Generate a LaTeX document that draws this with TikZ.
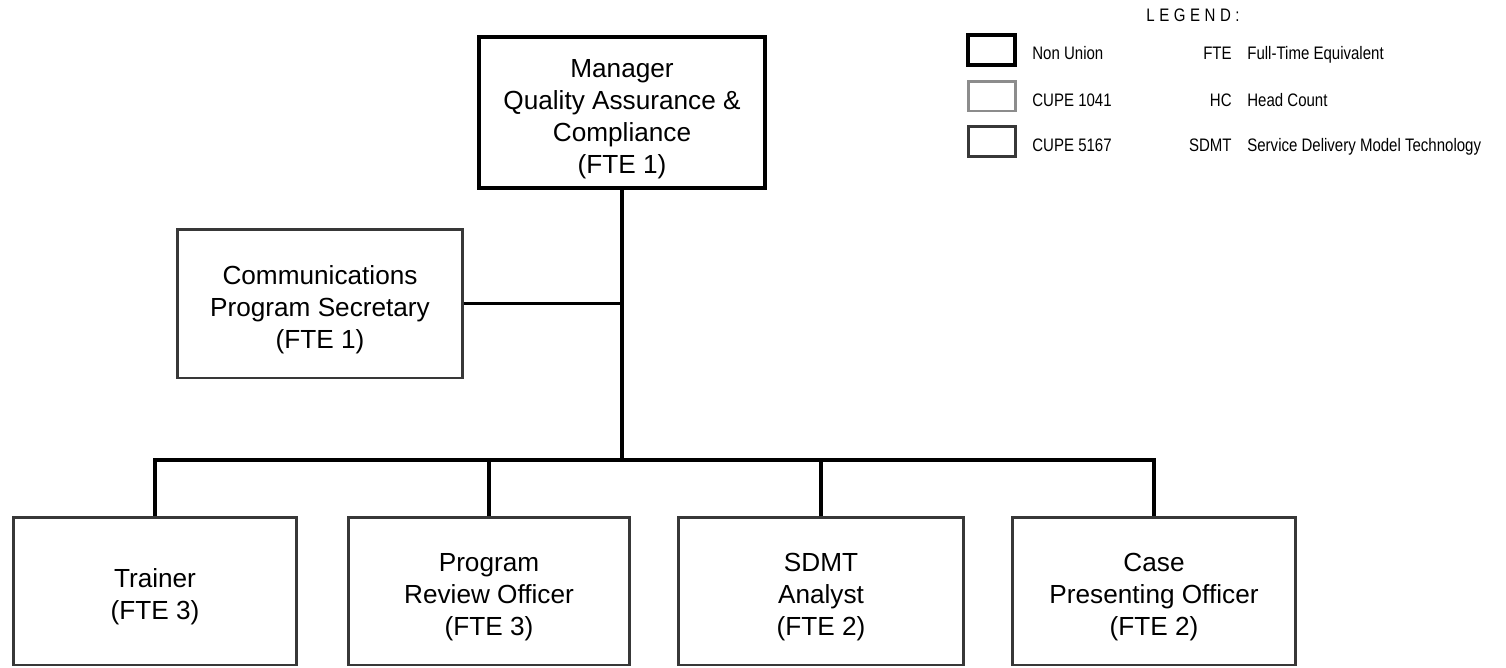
\documentclass[tikz,border=0pt]{standalone}
\usepackage{fontspec}
\setmainfont{Liberation Sans}
\newfontfamily\narrowfont[FakeStretch=0.83]{Liberation Sans}
\newfontfamily\narrowspaced[FakeStretch=0.83,LetterSpace=25]{Liberation Sans}
\definecolor{cnonunion}{rgb}{0,0,0}
\definecolor{cupeA}{rgb}{0.55,0.55,0.55}
\definecolor{cupeB}{rgb}{0.22,0.22,0.22}
\newcommand\topstrut{\rule{0pt}{17.5pt}}
\tikzset{
  boxtext/.style={align=center,inner sep=0pt,font={\fontsize{14.9}{18.2}\selectfont}},
  mgrbox/.style={boxtext,draw=cnonunion,line width=2.3pt},
  unionbox/.style={boxtext,draw=cupeB,line width=1.7pt},
  conn/.style={draw=black,line width=2.2pt},
  legbox/.style={draw,minimum width=0.94cm,minimum height=0.6cm,inner sep=0pt},
  legtext/.style={inner sep=0pt,font={\narrowfont\fontsize{10.3}{12}\selectfont}}
}
\begin{document}
\begin{tikzpicture}[x=0.02cm,y=-0.02cm]
\useasboundingbox (0,0) rectangle (1506,667);
% main boxes
\node[mgrbox,minimum width=5.72cm,minimum height=3.02cm] (mgr) at (622,112.5)
  {\topstrut Manager\\Quality Assurance \&\\Compliance\\(FTE 1)};
\node[unionbox,minimum width=5.72cm,minimum height=2.98cm] (comm) at (320,303.5)
  {\topstrut Communications\\Program Secretary\\(FTE 1)};
\node[unionbox,minimum width=5.68cm,minimum height=2.96cm] (tr) at (155,591)
  {\topstrut Trainer\\(FTE 3)};
\node[unionbox,minimum width=5.64cm,minimum height=2.96cm] (pr) at (489,591)
  {\topstrut Program\\Review Officer\\(FTE 3)};
\node[unionbox,minimum width=5.70cm,minimum height=2.96cm] (sd) at (821,591)
  {\topstrut SDMT\\Analyst\\(FTE 2)};
\node[unionbox,minimum width=5.66cm,minimum height=2.96cm] (cs) at (1154,591)
  {\topstrut Case\\Presenting Officer\\(FTE 2)};
% connectors
\coordinate (bus) at (0,460);
\draw[conn] (mgr.south) -- (mgr.south |- bus);
\draw[conn] (comm.east) -- (comm.east -| mgr.south);
\draw[conn] (tr.north) -- (tr.north |- bus) -- (cs.north |- bus) -- (cs.north);
\draw[conn] (pr.north) -- (pr.north |- bus);
\draw[conn] (sd.north) -- (sd.north |- bus);
% legend
\node[legtext,font={\narrowspaced\fontsize{10.3}{12}\selectfont}] (legtitle) at (1193,15) {LEGEND:};
\node[legbox,draw=cnonunion,line width=2.2pt] (lb1) at (991.5,50) {};
\node[legbox,draw=cupeA,line width=1.7pt] (lb2) at (991.5,96) {};
\node[legbox,draw=cupeB,line width=1.7pt] (lb3) at (991.5,141.5) {};
\node[legtext,anchor=base west] (lt1) at (1032,59.5) {Non Union};
\node[legtext,anchor=base west] (lt2) at (1032,106.5) {CUPE 1041};
\node[legtext,anchor=base west] (lt3) at (1032,151.5) {CUPE 5167};
\node[legtext,anchor=base east] (la1) at (1232,59.5) {FTE};
\node[legtext,anchor=base east] (la2) at (1232,106.5) {HC};
\node[legtext,anchor=base east] (la3) at (1232,151.5) {SDMT};
\node[legtext,anchor=base west] (ld1) at (1247,59.5) {Full-Time Equivalent};
\node[legtext,anchor=base west] (ld2) at (1247,106.5) {Head Count};
\node[legtext,anchor=base west] (ld3) at (1247,151.5) {Service Delivery Model Technology};
\end{tikzpicture}
\end{document}
